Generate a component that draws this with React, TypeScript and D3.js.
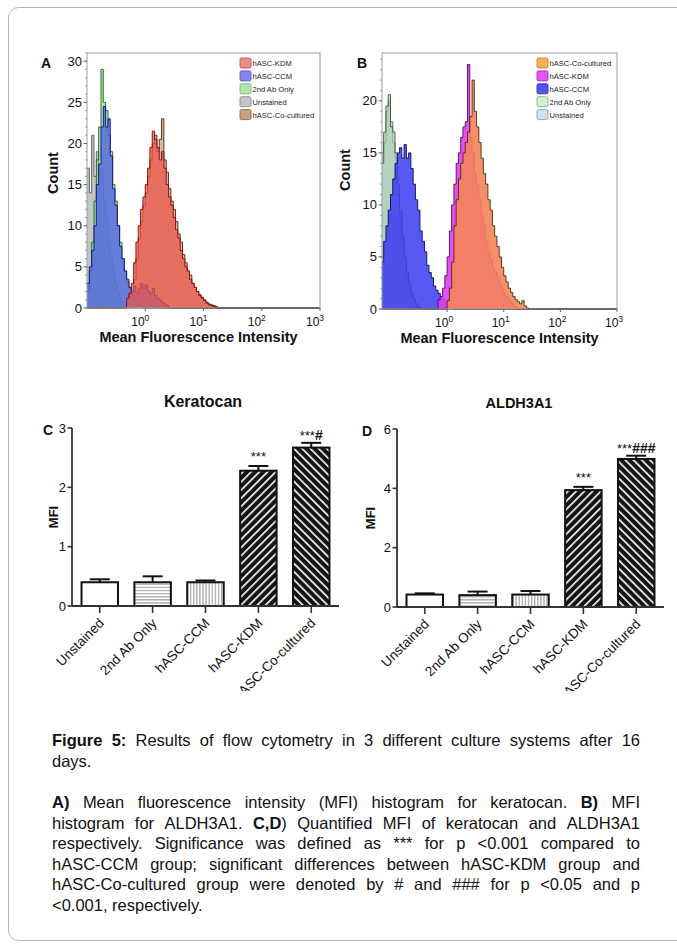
import React from 'react';
import * as d3 from 'd3';

const FONT = "'Liberation Sans', Arial, Helvetica, sans-serif";

// ---------------- Histogram data: counts per log10 bin (width HIST_STEP) ----------------
const HIST_STEP = 0.04;
const histExponents = [0, 1, 2, 3];

// Panel A – keratocan
const aUnstainedStart = -1.0;
const aUnstained = [17, 14, 21, 16, 19, 15, 17, 13, 11, 8, 6, 4.5, 3, 2, 1.2, 0.7, 0.4, 0.2];
const aSecondAbStart = -1.0;
const aSecondAb = [2, 4.5, 8, 13, 18, 22, 29, 25, 24, 21, 19, 15, 13, 10, 8, 6, 4.5, 3.2, 2.4, 1.6, 1.1, 0.7, 0.4, 0.2];
const aCcmStart = -1.0;
const aCcm = [3, 5, 7, 10, 15, 17.5, 22, 24.5, 22, 23, 18.5, 14.5, 12.5, 10, 7.5, 6, 4.5, 3.5, 2.5, 2, 2.6, 1.8, 2.3, 3, 2.4, 2.8, 2, 1.7, 2.4, 1.5, 1.2, 1, 0.7, 0.5, 0.3];
const aKdmStart = -0.32;
const aKdm = [1.2, 1.8, 3, 5.5, 8, 10, 12, 13.5, 15, 17, 19.5, 21.5, 20.5, 19.5, 18, 19, 17, 15, 13.5, 12.5, 11, 9.5, 8.5, 7, 6, 5, 4.5, 3.5, 3, 2.5, 2, 1.5, 1.2, 0.9, 0.6, 0.4, 0.3, 0.2];
const aCoStart = -0.28;
const aCo = [1.4, 2, 3.5, 6, 8.5, 10.5, 12.5, 14, 16, 18, 20, 21, 19, 20.5, 23, 18, 16.5, 14.5, 13, 12, 10.5, 9, 8, 6.5, 5.5, 4.5, 4, 3, 2.5, 2, 1.6, 1.3, 1, 0.7, 0.5, 0.4, 0.3, 0.2];

// Panel B – ALDH3A1
const bUnstainedStart = -1.16;
const bUnstained = [15, 16, 19, 20, 18, 16, 14.5, 11, 8.5, 6.5, 4.5, 3, 2, 1.3, 0.8, 0.4, 0.2];
const bSecondAbStart = -1.16;
const bSecondAb = [14, 17, 19.5, 20.6, 17.5, 17, 15, 12, 9.5, 7, 5, 3.5, 2.5, 1.5, 1, 0.5, 0.2];
const bCcmStart = -1.16;
const bCcm = [4.5, 6.5, 8, 9.5, 11, 12.5, 14, 15, 15.5, 14.5, 15.8, 14.5, 15, 13.5, 12, 10.5, 9.5, 7.5, 6.5, 5.5, 4.2, 3.5, 3, 2.2, 1.8, 1.5, 1.2, 1, 0.7, 0.5, 0.3, 0.2];
const bKdmStart = -0.16;
const bKdm = [0.9, 1.2, 2, 3.2, 5, 7.5, 10, 12, 14, 15, 16.5, 17.5, 18, 23.5, 16.5, 15, 13, 12, 10.5, 9, 8, 6.5, 5.5, 4.8, 4, 3.5, 3, 2.5, 2, 1.5, 1.2, 0.9, 0.6, 0.4, 0.2];
const bCoStart = 0.0;
const bCo = [0.8, 2, 4.5, 8, 10.5, 12.5, 14, 15, 16, 17, 18.5, 22, 19, 17.5, 16, 14.5, 13, 12, 10.5, 9.5, 8, 7, 6, 5, 4, 3.2, 2.6, 2, 1.6, 1.2, 0.9, 0.7, 0.5, 0.8, 0.3, 0.1];

const legendA = ['hASC-KDM', 'hASC-CCM', '2nd Ab Only', 'Unstained', 'hASC-Co-cultured'];
const legendB = ['hASC-Co-cultured', 'hASC-KDM', 'hASC-CCM', '2nd Ab Only', 'Unstained'];

// ---------------- Bar chart data ----------------
const barCategories = ['Unstained', '2nd Ab Only', 'hASC-CCM', 'hASC-KDM', 'hASC-Co-cultured'];
const keratocanMean = [0.40, 0.40, 0.40, 2.28, 2.67];
const keratocanErr = [0.05, 0.10, 0.03, 0.08, 0.08];
const keratocanSig = ['', '', '', '***', '***#'];
const aldhMean = [0.42, 0.40, 0.42, 3.94, 4.99];
const aldhErr = [0.04, 0.12, 0.12, 0.11, 0.11];
const aldhSig = ['', '', '', '***', '***###'];

// ---------------- Caption ----------------
const captionP1 = [
  '{Figure 5:} Results of flow cytometry in 3 different culture systems after 16',
  'days.',
];
const captionP2 = [
  '{A)} Mean fluorescence intensity (MFI) histogram for keratocan. {B)} MFI',
  'histogram for ALDH3A1. {C,D}) Quantified MFI of keratocan and ALDH3A1',
  'respectively.  Significance was defined as *** for p <0.001 compared to',
  'hASC-CCM group; significant differences between hASC-KDM group and',
  'hASC-Co-cultured group were denoted by # and ### for p <0.05 and p',
  '<0.001, respectively.',
];

// ---------------- Styles ----------------
const styleA: Record<string, any> = {
  'hASC-Co-cultured': { fill: '#b58058', op: 0.55, stroke: '#4a220c', sw: '#c9a27e', sb: '#8a6a4a' },
  'Unstained': { fill: '#a4a4a4', op: 0.65, stroke: '#555', sw: '#c4c4c4', sb: '#8e8e8e' },
  '2nd Ab Only': { fill: '#7fd67f', op: 0.65, stroke: '#1d6a1d', sw: '#aee8ae', sb: '#80b080' },
  'hASC-CCM': { fill: '#5062e6', op: 0.78, stroke: '#10107a', sw: '#8686f2', sb: '#5a5ac0' },
  'hASC-KDM': { fill: '#ec5548', op: 0.74, stroke: '#850808', sw: '#f28a8a', sb: '#c05050' },
};
const styleB: Record<string, any> = {
  'Unstained': { fill: '#b4c8d6', op: 0.75, stroke: '#5a6a78', sw: '#d0e0ec', sb: '#90a0b0' },
  '2nd Ab Only': { fill: '#a9cfa9', op: 0.6, stroke: '#3a5a3a', sw: '#d0f0d0', sb: '#90b090' },
  'hASC-CCM': { fill: '#3b3bf0', op: 0.85, stroke: '#0a0a5a', sw: '#5555f2', sb: '#3030a0' },
  'hASC-KDM': { fill: '#e03cf0', op: 0.9, stroke: '#50085e', sw: '#e256f2', sb: '#a030b0' },
  'hASC-Co-cultured': { fill: '#f4845a', op: 0.9, stroke: '#4e2a08', sw: '#f8b050', sb: '#c08030' },
};

const seriesA = [
  { name: 'hASC-Co-cultured', start: aCoStart, counts: aCo },
  { name: 'Unstained', start: aUnstainedStart, counts: aUnstained },
  { name: '2nd Ab Only', start: aSecondAbStart, counts: aSecondAb },
  { name: 'hASC-CCM', start: aCcmStart, counts: aCcm },
  { name: 'hASC-KDM', start: aKdmStart, counts: aKdm },
];
const seriesB = [
  { name: 'Unstained', start: bUnstainedStart, counts: bUnstained },
  { name: '2nd Ab Only', start: bSecondAbStart, counts: bSecondAb },
  { name: 'hASC-CCM', start: bCcmStart, counts: bCcm },
  { name: 'hASC-KDM', start: bKdmStart, counts: bKdm },
  { name: 'hASC-Co-cultured', start: bCoStart, counts: bCo },
];

type Pt = [number, number];

function Histogram(p: any) {
  const xs = d3.scaleLog().domain([10 ** p.logLo, 10 ** p.logHi]).range([p.ox, p.ox + p.w]);
  const ys = d3.scaleLinear().domain([0, p.yMax]).range([p.oy + p.h, p.oy]);
  const area = d3.area<Pt>().x(d => xs(d[0])).y0(ys(0)).y1(d => ys(d[1])).curve(d3.curveStepAfter);
  const line = d3.line<Pt>().x(d => xs(d[0])).y(d => ys(d[1])).curve(d3.curveStepAfter);
  const toPts = (s: any): Pt[] => {
    const pts: Pt[] = [];
    if (s.start > p.logLo) pts.push([10 ** p.logLo, 0]);
    s.counts.forEach((c: number, i: number) => pts.push([10 ** (s.start + i * HIST_STEP), c]));
    pts.push([10 ** (s.start + s.counts.length * HIST_STEP), 0]);
    pts.push([10 ** p.logHi, 0]);
    return pts;
  };
  const clipId = 'clip' + p.id;
  const majors = d3.range(0, p.yMax + 0.001, 5);
  const minors = d3.range(0, p.yMax + 0.001, 1);
  return (
    <g>
      <defs>
        <clipPath id={clipId}>
          <rect x={p.ox} y={p.oy - 1} width={p.w} height={p.h + 2} />
        </clipPath>
      </defs>
      <g clipPath={`url(#${clipId})`}>
        {p.series.map((s: any) => {
          const st = p.styles[s.name];
          const pts = toPts(s);
          return (
            <g key={s.name}>
              <path d={area(pts) || ''} fill={st.fill} fillOpacity={st.op} />
              <path d={line(pts) || ''} fill="none" stroke={st.stroke} strokeWidth={0.9} />
            </g>
          );
        })}
      </g>
      <rect x={p.ox} y={p.oy} width={p.w} height={p.h} fill="none" stroke="#9a9a9a" strokeWidth={1} />
      {minors.map(v => (
        <line key={'m' + v} x1={p.ox - 2} x2={p.ox} y1={ys(v)} y2={ys(v)} stroke="#8a8ab8" strokeWidth={0.8} />
      ))}
      {majors.map(v => (
        <g key={'t' + v}>
          <line x1={p.ox - 3.5} x2={p.ox} y1={ys(v)} y2={ys(v)} stroke="#666" strokeWidth={1} />
          <text x={p.ox - 5} y={ys(v) + 4.5} textAnchor="end" fontSize={13} fill="#111">{v}</text>
        </g>
      ))}
      {histExponents.map(k => (
        <g key={'x' + k}>
          <line x1={xs(10 ** k)} x2={xs(10 ** k)} y1={p.oy + p.h} y2={p.oy + p.h + 3} stroke="#666" strokeWidth={1} />
          <text x={xs(10 ** k) + p.lblShift} y={p.oy + p.h + 18} textAnchor="middle" fontSize={12} fill="#111">
            10<tspan dy={-5} fontSize={8.5}>{k}</tspan>
          </text>
        </g>
      ))}
      <text x={p.ox + p.w / 2 + p.titleShift} y={p.oy + p.h + 34} textAnchor="middle" fontSize={14.5} fontWeight="bold" fill="#111">
        Mean Fluorescence Intensity
      </text>
      <text transform={`translate(${p.countX},${p.countY}) rotate(-90)`} textAnchor="middle" fontSize={14.5} fontWeight="bold" fill="#111">
        Count
      </text>
      <text x={p.letterX} y={p.oy + 15} fontSize={14} fontWeight="bold" fill="#111">{p.letter}</text>
      {p.legend.map((name: string, i: number) => {
        const st = p.styles[name];
        const ty = p.legY + i * 12.9;
        return (
          <g key={'l' + name}>
            <rect x={p.legX} y={ty} width={11} height={10} rx={1.5} fill={st.sw} stroke={st.sb} strokeWidth={0.9} />
            <text x={p.legX + 12.5} y={ty + 8} fontSize={7.6} fill="#222">{name}</text>
          </g>
        );
      })}
    </g>
  );
}

const barFills = ['#ffffff', 'url(#hatchH)', 'url(#hatchV)', 'url(#hatchF)', 'url(#hatchB)'];

function BarPanel(p: any) {
  const x = d3.scaleBand<string>().domain(barCategories).range([p.axisX, p.xEnd]).paddingInner(0.31).paddingOuter(0.18);
  const y = d3.scaleLinear().domain([0, p.yMax]).range([p.y0, p.yTop]);
  const ticks = d3.range(0, p.yMax + 1e-9, p.yStep);
  const bw = x.bandwidth();
  return (
    <g>
      <text x={p.titleX} y={p.yTop - 21} textAnchor="middle" fontSize={p.titleSize} fontWeight="bold" fill="#111">{p.title}</text>
      <text x={p.letterX} y={p.yTop + 7} fontSize={14} fontWeight="bold" fill="#111">{p.letter}</text>
      <text transform={`translate(${p.mfiX},${(p.y0 + p.yTop) / 2}) rotate(-90)`} textAnchor="middle" fontSize={13} fontWeight="bold" fill="#111">MFI</text>
      {barCategories.map((c, i) => {
        const x0 = x(c) as number;
        const cx = x0 + bw / 2;
        const top = y(p.means[i]);
        const et = y(p.means[i] + p.errs[i]);
        const sig: string = p.sig[i];
        const stars = sig.replace(/#/g, '');
        const hashes = sig.replace(/\*/g, '');
        return (
          <g key={c}>
            <line x1={cx} x2={cx} y1={top} y2={et} stroke="#111" strokeWidth={2} />
            <line x1={cx - 10} x2={cx + 10} y1={et} y2={et} stroke="#111" strokeWidth={2} />
            <rect x={x0} y={top} width={bw} height={p.y0 - top} fill={barFills[i]} stroke="#111" strokeWidth={2} />
            {sig && (
              <text x={cx} y={et - (hashes ? 3 : 5)} textAnchor="middle" fontSize={13} fill="#111">
                {stars}
                {hashes && <tspan fontSize={14} fontWeight="bold">{hashes}</tspan>}
              </text>
            )}
            <line x1={cx} x2={cx} y1={p.y0} y2={p.y0 + 7} stroke="#333" strokeWidth={1.6} />
            <g clipPath="url(#labelClip)">
              <text transform={`translate(${cx + 5},${p.y0 + 18}) rotate(-45)`} textAnchor="end" fontSize={13.5} fill="#111">{c}</text>
            </g>
          </g>
        );
      })}
      <line x1={p.axisX} x2={p.axisX} y1={p.yTop} y2={p.y0} stroke="#333" strokeWidth={1.8} />
      <line x1={p.axisX} x2={p.xEnd} y1={p.y0} y2={p.y0} stroke="#333" strokeWidth={1.8} />
      {ticks.map(v => (
        <g key={'yt' + v}>
          <line x1={p.axisX - 4.5} x2={p.axisX} y1={y(v)} y2={y(v)} stroke="#333" strokeWidth={1.6} />
          <text x={p.axisX - 6} y={y(v) + 4.5} textAnchor="end" fontSize={13} fill="#111">{v}</text>
        </g>
      ))}
    </g>
  );
}

let measureCtx: CanvasRenderingContext2D | null = null;
function measure(text: string, bold: boolean, size: number) {
  if (!measureCtx && typeof document !== 'undefined') {
    measureCtx = document.createElement('canvas').getContext('2d');
  }
  if (!measureCtx) return text.length * size * 0.5;
  measureCtx.font = `${bold ? 'bold ' : ''}${size}px 'Liberation Sans', Arial, sans-serif`;
  return measureCtx.measureText(text).width;
}

type Run = { t: string; b: boolean };
function parseLine(line: string): Run[][] {
  const words: Run[][] = [];
  let bold = false;
  let cur: Run[] = [];
  let buf = '';
  const flush = () => { if (buf) { cur.push({ t: buf, b: bold }); buf = ''; } };
  for (const ch of line) {
    if (ch === '{') { flush(); bold = true; }
    else if (ch === '}') { flush(); bold = false; }
    else if (ch === ' ') { flush(); if (cur.length) { words.push(cur); cur = []; } }
    else buf += ch;
  }
  flush();
  if (cur.length) words.push(cur);
  return words;
}

function Paragraph({ lines, x, y, width, lh, size }: any) {
  return (
    <g>
      {lines.map((line: string, li: number) => {
        const words = parseLine(line);
        const widths = words.map(w => w.reduce((s, r) => s + measure(r.t, r.b, size), 0));
        const total = widths.reduce((a, b) => a + b, 0);
        const last = li === lines.length - 1;
        const gap = last || words.length < 2 ? measure(' ', false, size) : (width - total) / (words.length - 1);
        let cx = x;
        const yy = y + li * lh;
        return (
          <g key={li}>
            {words.map((w, wi) => {
              const el = (
                <text key={wi} x={cx} y={yy} fontSize={size} fill="#111">
                  {w.map((r, ri) => (
                    <tspan key={ri} fontWeight={r.b ? 'bold' : 'normal'}>{r.t}</tspan>
                  ))}
                </text>
              );
              cx += widths[wi] + gap;
              return el;
            })}
          </g>
        );
      })}
    </g>
  );
}

export default function App() {
  return (
    <svg width={677} height={945} style={{ position: 'absolute', left: 0, top: 0, background: '#fff' }} fontFamily={FONT}>
      <defs>
        <clipPath id="labelClip">
          <rect x={0} y={600} width={677} height={91} />
        </clipPath>
        <pattern id="hatchH" patternUnits="userSpaceOnUse" width={6} height={3.1}>
          <rect width={6} height={3.1} fill="#fff" />
          <line x1={0} x2={6} y1={1.5} y2={1.5} stroke="#9a9a9a" strokeWidth={1.1} />
        </pattern>
        <pattern id="hatchV" patternUnits="userSpaceOnUse" width={3.1} height={6}>
          <rect width={3.1} height={6} fill="#fff" />
          <line x1={1.5} x2={1.5} y1={0} y2={6} stroke="#9a9a9a" strokeWidth={1.1} />
        </pattern>
        <pattern id="hatchF" patternUnits="userSpaceOnUse" width={5.8} height={10} patternTransform="rotate(45)">
          <rect width={5.8} height={10} fill="#141414" />
          <rect x={0} width={1.6} height={10} fill="#fff" />
        </pattern>
        <pattern id="hatchB" patternUnits="userSpaceOnUse" width={5.8} height={10} patternTransform="rotate(-45)">
          <rect width={5.8} height={10} fill="#141414" />
          <rect x={0} width={1.6} height={10} fill="#fff" />
        </pattern>
      </defs>
      <rect x={0} y={0} width={677} height={945} fill="#fff" />
      <rect x={8.5} y={7.5} width={720} height={933} rx={10} fill="none" stroke="#b4b4b4" strokeWidth={1} />

      <Histogram id="A" ox={87} oy={53} w={233} h={255} logLo={-1} logHi={3} yMax={31}
        series={seriesA} styles={styleA} legend={legendA} legX={240} legY={58}
        lblShift={-5} titleShift={-5} countX={58} countY={173} letter="A" letterX={41} />
      <Histogram id="B" ox={382} oy={53} w={235} h={256} logLo={-1.15} logHi={3} yMax={24.6}
        series={seriesB} styles={styleB} legend={legendB} legX={537} legY={58}
        lblShift={-3} titleShift={-0} countX={350} countY={170} letter="B" letterX={357} />

      <BarPanel axisX={72} xEnd={339} y0={606} yTop={428} yMax={3} yStep={1}
        means={keratocanMean} errs={keratocanErr} sig={keratocanSig}
        title="Keratocan" titleX={203} titleSize={16} letter="C" letterX={43} mfiX={58} />
      <BarPanel axisX={397} xEnd={664} y0={607} yTop={429} yMax={6} yStep={2}
        means={aldhMean} errs={aldhErr} sig={aldhSig}
        title="ALDH3A1" titleX={519} titleSize={14.5} letter="D" letterX={362} mfiX={375} />

      <Paragraph lines={captionP1} x={52} y={746} width={588} lh={21} size={16.5} />
      <Paragraph lines={captionP2} x={52} y={808} width={588} lh={20.6} size={16.5} />
    </svg>
  );
}
